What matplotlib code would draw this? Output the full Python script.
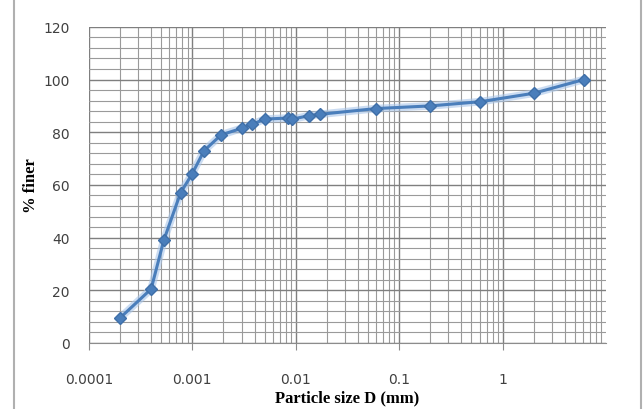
import numpy as np
import matplotlib
matplotlib.use('Agg')
import matplotlib.pyplot as plt
from matplotlib.ticker import FixedLocator, NullFormatter, MultipleLocator, LogLocator

# grain size distribution
size_mm = [0.0002, 0.0004, 0.00053, 0.00077, 0.00099, 0.0013, 0.0019, 0.003,
           0.0038, 0.005, 0.0085, 0.0093, 0.0135, 0.017, 0.06, 0.2, 0.61, 2.0, 6.1]
pct_finer = [9.5, 20.5, 39, 57, 64, 73, 79, 81.5,
             83, 85, 85.4, 85, 86.3, 86.8, 89, 90, 91.6, 94.8, 100]

xticks = [0.0001, 0.001, 0.01, 0.1, 1]
xticklabels = ['0.0001', '0.001', '0.01', '0.1', '1']
yticks = [0, 20, 40, 60, 80, 100, 120]

fig = plt.figure(figsize=(6.44, 4.10), dpi=100)
ax = fig.add_axes([0.138, 0.161, 0.803, 0.771])

ax.plot(size_mm, pct_finer, color='#a9c6ea', lw=5.5, alpha=0.6, solid_capstyle='round', zorder=3)
ax.plot(size_mm, pct_finer, color='#4a7ebb', lw=2.2, marker='D', ms=6,
        mec='#3f6fa8', mfc='#4a7ebb', zorder=4)

ax.set_xscale('log')
ax.set_xlim(0.0001, 10)
ax.set_ylim(0, 120)
ax.xaxis.set_major_locator(FixedLocator(xticks))
ax.set_xticklabels(xticklabels)
ax.xaxis.set_minor_locator(LogLocator(base=10, subs=np.arange(2, 10), numticks=20))
ax.xaxis.set_minor_formatter(NullFormatter())
ax.set_yticks(yticks)
ax.yaxis.set_minor_locator(MultipleLocator(4))

ax.grid(which='major', color='#7f7f7f', lw=1.0)
ax.grid(which='minor', color='#9a9a9a', lw=0.8)
ax.set_axisbelow(True)

for s in ['top', 'right', 'left']:
    ax.spines[s].set_visible(False)
ax.spines['bottom'].set_color('#8c8c8c')
ax.tick_params(axis='x', which='major', length=5, color='#8c8c8c', labelsize=10,
               labelcolor='#404040', pad=16)
ax.tick_params(axis='x', which='minor', length=0)
ax.tick_params(axis='y', which='both', length=0, labelsize=10, labelcolor='#404040', pad=14)

ax.set_xlabel('Particle size D (mm)', fontfamily='Liberation Serif', fontweight='bold',
              fontsize=12, labelpad=2)
ax.set_ylabel('% finer', fontfamily='Liberation Serif', fontweight='bold', fontsize=12,
              labelpad=3)

# outer chart frame edges
fig.add_artist(plt.Line2D([0.022, 0.022], [0, 1], color='#b0b0b0', lw=1.5, transform=fig.transFigure))
fig.add_artist(plt.Line2D([0.995, 0.995], [0, 1], color='#b0b0b0', lw=1.5, transform=fig.transFigure))

fig.savefig('out.png', dpi=100)
